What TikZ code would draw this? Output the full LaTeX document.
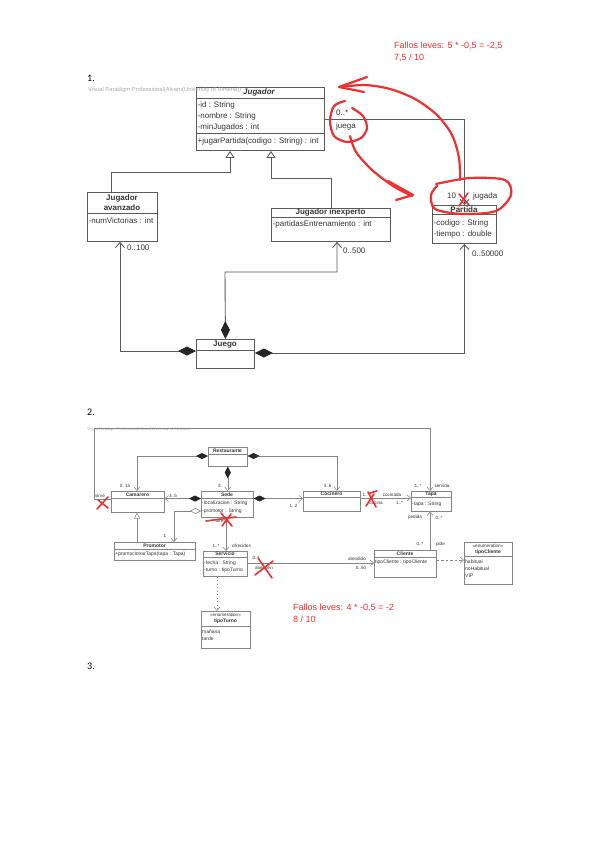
\documentclass[tikz,border=0pt]{standalone}
\usepackage{fontspec}
\setmainfont{Liberation Sans}
\newfontfamily\numfont{Carlito}
\usetikzlibrary{arrows.meta}
\definecolor{uml}{HTML}{5A5A5A}
\definecolor{umlb}{HTML}{858585}
\definecolor{tinta}{HTML}{333333}
\definecolor{rojo}{HTML}{F03030}
\definecolor{marcagris}{HTML}{A8A8A8}

\begin{document}
\begin{tikzpicture}[x=1pt,y=-1pt,
  clase/.style={draw=uml,line width=0.9pt,inner sep=0pt,anchor=north west},
  claseb/.style={draw=umlb,line width=0.55pt,inner sep=0pt,anchor=north west},
  linea/.style={draw=uml,line width=0.9pt},
  lineb/.style={draw=umlb,line width=0.55pt},
  txt/.style={font=\fontsize{8}{9}\selectfont,text=tinta,inner sep=0pt,anchor=west},
  tit/.style={font=\fontsize{8}{9}\selectfont\bfseries,text=tinta,inner sep=0pt},
  txtb/.style={font=\fontsize{5}{6}\selectfont,text=tinta,inner sep=0pt,anchor=west},
  titb/.style={font=\fontsize{5}{6}\selectfont\bfseries,text=tinta,inner sep=0pt},
  rol/.style={font=\fontsize{4.6}{5}\selectfont,text=tinta,inner sep=0pt},
  nota/.style={font=\fontsize{9}{11}\selectfont,text=rojo,inner sep=0pt,anchor=base west},
  num/.style={font=\numfont\fontsize{10}{12}\selectfont,inner sep=0pt,anchor=base west},
  marca/.style={text=marcagris,inner sep=0pt,anchor=west},
  boli/.style={draw=rojo,line width=2.2pt,line cap=round,line join=round},
  tacha/.style={draw=rojo,line width=1.6pt,line cap=round,line join=round},
  nav/.style={-{Straight Barb[length=5pt,width=9pt]}},
  comp/.style={{Diamond[length=18pt,width=9pt,color=black!85]}-{Straight Barb[length=5pt,width=9pt]}},
  her/.style={{Triangle[open,length=7pt,width=9pt,fill=white]}-},
  navb/.style={-{Straight Barb[length=3.5pt,width=6pt]}},
  compb/.style={{Diamond[length=12pt,width=6pt,color=black!85]}-{Straight Barb[length=3.5pt,width=6pt]}},
  aggb/.style={{Diamond[open,length=11pt,width=6pt,fill=white]}-{Straight Barb[length=3.5pt,width=6pt]}},
  herb/.style={-{Triangle[open,length=6pt,width=6pt,fill=white]}},
  dep/.style={dash pattern=on 2.5pt off 2pt,-{Straight Barb[length=3.5pt,width=6pt]}},
  depp/.style={dash pattern=on 1pt off 2.5pt,-{Straight Barb[length=3.5pt,width=6pt]}}
]
\fill[white] (0,0) rectangle (599,848);
\useasboundingbox (0,0) rectangle (599,848);

% NOTES
\node[nota] (nota1) at (394,48.5) {Fallos leves: 5 * -0,5 = -2,5};
\node[nota] (nota1b) at (394,60.5) {7,5 / 10};
\node[num] (n1) at (87,81.5) {1.};
\node[num] (n2) at (87,415) {2.};
\node[num] (n3) at (87,669) {3.};

%%%%%%%%%%%%%%%%%%%%  DIAGRAM 1

% CLASSES
\node[clase, minimum width=128, minimum height=63] (jugador) at (196,87) {};
\draw[linea] (jugador.west |- 0,98) -- (jugador.east |- 0,98)
  (jugador.west |- 0,133) -- (jugador.east |- 0,133);
\node[marca, font=\fontsize{5.8}{6}\selectfont] (vp1) at (88,90)
  {Visual Paradigm Professional(Alvaro(University of Almeria))};
\node[tit, font=\fontsize{8}{9}\selectfont\bfseries\itshape] (tjug) at (259,92.5) {Jugador};
\node[txt] (jid) at (197.5,105.5) {-id : String};
\node[txt] (jnom) at (197.5,116.5) {-nombre : String};
\node[txt] (jmin) at (197.5,127) {-minJugados : int};
\node[txt] (jmet) at (197.5,141.5) {+jugarPartida(codigo : String) : int};

\node[clase, minimum width=70, minimum height=49] (avanz) at (87,192) {};
\draw[linea] (avanz.west |- 0,213) -- (avanz.east |- 0,213);
\node[tit] (tav1) at (122,198) {Jugador};
\node[tit] (tav2) at (122,208) {avanzado};
\node[txt] (anum) at (88.5,221) {-numVictorias : int};

\node[clase, minimum width=119, minimum height=33] (inexp) at (271,208) {};
\draw[linea] (inexp.west |- 0,217) -- (inexp.east |- 0,217);
\node[tit] (tin) at (330.5,212.5) {Jugador inexperto};
\node[txt] (ient) at (272.5,224) {-partidasEntrenamiento : int};

\node[clase, minimum width=64, minimum height=38] (partida) at (432,205) {};
\draw[linea] (partida.west |- 0,214) -- (partida.east |- 0,214);
\node[tit] (tpar) at (464,209.5) {Partida};
\node[txt] (pcod) at (433.5,223) {-codigo : String};
\node[txt] (ptie) at (433.5,234) {-tiempo : double};

\node[clase, minimum width=58, minimum height=29] (juego) at (196,339) {};
\draw[linea] (juego.west |- 0,350) -- (juego.east |- 0,350);
\node[tit] (tjue) at (225,344.5) {Juego};

% ARROWS
\draw[linea, her] (jugador.south -| 230,0) -- (230,172) -| (avanz.north -| 111,0);
\draw[linea, her] (jugador.south -| 271,0) -- (271,178) -| (inexp.north -| 331,0);
\draw[linea, nav] (jugador.east |- 0,119) -| (partida.north);
\draw[linea, comp] (juego.north) -- (225,272) -| (inexp.south -| 337,0);
\draw[linea, comp] (juego.west |- 0,351) -| (avanz.south -| 120,0);
\draw[linea, comp] (juego.east |- 0,353) -| (partida.south);

\node[txt] (m1) at (336,113) {0..*};
\node[txt] (r1) at (336,126) {juega};
\node[txt] (m2) at (447,196) {10};
\node[txt] (r2) at (473,196) {jugada};
\node[txt] (m3) at (127,248) {0..100};
\node[txt] (m4) at (343,251) {0..500};
\node[txt] (m5) at (472,254) {0..50000};

% RED PEN
\draw[boli] plot[smooth] coordinates {(460,180) (459,158) (452,135) (437,115) (415,99) (390,89) (365,85) (341,87)};
\draw[boli] (367,77) -- (339,87) -- (364,92);
\draw[boli] plot[smooth] coordinates {(436,184) (470,178) (505,180) (511,195) (496,211) (462,214) (435,209) (431,195) (437,186)};
\draw[boli] plot[smooth] coordinates {(352,108) (363,116) (367,128) (361,138) (347,142) (334,136) (330,121) (334,106) (345,101)};
\draw[boli] plot[smooth] coordinates {(350,136) (356,152) (372,170) (393,186) (412,196)};
\draw[boli] (388,181) -- (413,195) -- (396,200);
\draw[tacha] (459,194) -- (469,205) (468,193) -- (459,206);

%%%%%%%%%%%%%%%%%%%%  DIAGRAM 2

% CLASSES
\node[claseb, minimum width=39, minimum height=19] (resta) at (208,447) {};
\draw[lineb] (resta.west |- 0,454) -- (resta.east |- 0,454);
\node[titb] (tres) at (227.5,450.5) {Restaurante};

\node[claseb, minimum width=53, minimum height=21] (camar) at (111,491) {};
\draw[lineb] (camar.west |- 0,498) -- (camar.east |- 0,498);
\node[titb] (tcam) at (137.5,494.5) {Camarero};

\node[claseb, minimum width=52, minimum height=26] (sede) at (201,491) {};
\draw[lineb] (sede.west |- 0,498) -- (sede.east |- 0,498);
\node[titb] (tsed) at (227,494.5) {Sede};
\node[txtb] (sloc) at (202,503.5) {-localizacion : String};
\node[txtb] (spro) at (202,511) {-promotor : String};

\node[claseb, minimum width=57, minimum height=20] (cocin) at (303,491) {};
\draw[lineb] (cocin.west |- 0,497) -- (cocin.east |- 0,497);
\node[titb] (tcoc) at (331.5,494) {Cocinero};

\node[claseb, minimum width=40, minimum height=20] (tapa) at (411,491) {};
\draw[lineb] (tapa.west |- 0,497) -- (tapa.east |- 0,497);
\node[titb] (ttap) at (431,494) {Tapa};
\node[txtb] (tta) at (412,504) {-tapa : String};

\node[claseb, minimum width=81, minimum height=18] (promo) at (114,542) {};
\draw[lineb] (promo.west |- 0,549) -- (promo.east |- 0,549);
\node[titb] (tpro) at (154.5,545.5) {Promotor};
\node[txtb] (pmet) at (115,554) {+promocionarTapa(tapa : Tapa)};

\node[claseb, minimum width=44, minimum height=25] (servi) at (203,551) {};
\draw[lineb] (servi.west |- 0,557) -- (servi.east |- 0,557);
\node[titb] (tser) at (225,554) {Servicio};
\node[txtb] (sfec) at (204,563) {-fecha : String};
\node[txtb] (stur) at (204,570) {-turno : tipoTurno};

\node[claseb, minimum width=62, minimum height=27] (clien) at (374,550) {};
\draw[lineb] (clien.west |- 0,557) -- (clien.east |- 0,557);
\node[titb] (tcli) at (405,553.5) {Cliente};
\node[txtb] (ctip) at (375,562.5) {tipoCliente : tipoCliente};

\node[claseb, minimum width=48, minimum height=42] (tcl) at (464,542) {};
\draw[lineb] (tcl.west |- 0,556.5) -- (tcl.east |- 0,556.5);
\node[rol] (tcle) at (488,545.5) {<<enumeration>>};
\node[titb] (tcln) at (488,552) {tipoCliente};
\node[txtb] (thab) at (465,561.5) {habitual};
\node[txtb] (tnoh) at (465,569) {noHabitual};
\node[txtb] (tvip) at (465,576) {VIP};

\node[claseb, minimum width=49, minimum height=37] (ttu) at (201,611) {};
\draw[lineb] (ttu.west |- 0,626) -- (ttu.east |- 0,626);
\node[rol] (ttue) at (225.5,614.5) {<<enumeration>>};
\node[titb] (ttun) at (225.5,621.5) {tipoTurno};
\node[txtb] (tman) at (202,632) {mañana};
\node[txtb] (ttar) at (202,639) {tarde};

\node[marca, font=\fontsize{3.9}{4}\selectfont] (vp2) at (87,429.5)
  {Visual Paradigm Professional(Alvaro(University of Almeria))};

% ARROWS
\draw[lineb, compb] (resta.west |- 0,456) -| (camar.north -| 137,0);
\draw[lineb, compb] (resta.east |- 0,456) -| (cocin.north -| 337,0);
\draw[lineb, compb] (resta.south) -- (resta.south |- sede.north);
\draw[lineb, compb] (sede.west |- 0,498.5) -- (camar.east |- 0,498.5);
\draw[lineb, compb] (sede.east |- 0,498.5) -- (cocin.west |- 0,498.5);
\draw[lineb, aggb] (sede.west |- 0,511) -| (promo.north -| 174,0);
\draw[lineb, herb] (promo.north -| 137,0) -- (camar.south -| 137,0);
\draw[lineb, navb] (sede.south -| 226,0) -- (servi.north -| 226,0);
\draw[lineb, navb] (servi.east |- 0,563) -- (clien.west |- 0,563);
\draw[lineb, navb] (cocin.east |- 0,498) -- (tapa.west |- 0,498);
\draw[lineb, navb] (camar.west |- 0,499) -- (94,499) |- (430,428) -- (tapa.north -| 430,0);
\draw[lineb, navb] (clien.north -| 430,0) -- (tapa.south -| 430,0);
\draw[lineb, dep] (clien.east |- 0,560) -- (tcl.west |- 0,560);
\draw[lineb, depp] (servi.south -| 217,0) -- (ttu.north -| 217,0);

\node[rol] (e1) at (125,486) {0..15};
\node[rol] (e2) at (327.5,486) {3..6};
\node[rol] (e3) at (219.5,486) {3};
\node[rol] (e4) at (173,496) {3..5};
\node[rol] (e5) at (293.5,506) {1..2};
\node[rol] (e6) at (165,536) {1};
\node[rol] (e7) at (100,496) {sirve};
\node[rol] (e8) at (366,494.5) {1..*};
\node[rol] (e9) at (376,502.5) {cocina};
\node[rol] (e10) at (392,495) {cocinada};
\node[rol] (e11) at (399.5,502.5) {1..*};
\node[rol] (e12) at (418,485.5) {1..*};
\node[rol] (e13) at (442,485.5) {servida};
\node[rol] (e14) at (415,517.5) {pedida};
\node[rol] (e15) at (439,517.5) {0..*};
\node[rol] (e16) at (420,544) {0..*};
\node[rol] (e17) at (440.5,544) {pide};
\node[rol] (e18) at (222,520.5) {ofrece};
\node[rol] (e19) at (216,546) {1..*};
\node[rol] (e20) at (241.5,546) {ofrecidos};
\node[rol] (e21) at (256,558) {0..*};
\node[rol] (e22) at (264,567.5) {atienden};
\node[rol] (e23) at (357,559) {atendido};
\node[rol] (e24) at (361,567.5) {0..50};

% RED PEN
\draw[tacha] (97,509) -- (108,497) (98,500) -- (108,508);
\draw[tacha] (206,521) -- (236,517) (221,513) -- (232,526) (231,514) -- (222,526);
\draw[tacha] (368,492) -- (376,507) (366,506) -- (374,494) (370,493) -- (377,491);
\draw[tacha] (258,558) -- (272,578) (255,575) -- (273,561);
\node[nota] (nota2) at (293,610.5) {Fallos leves: 4 * -0,5 = -2};
\node[nota] (nota2b) at (293,622.5) {8 / 10};

\end{tikzpicture}
\end{document}
